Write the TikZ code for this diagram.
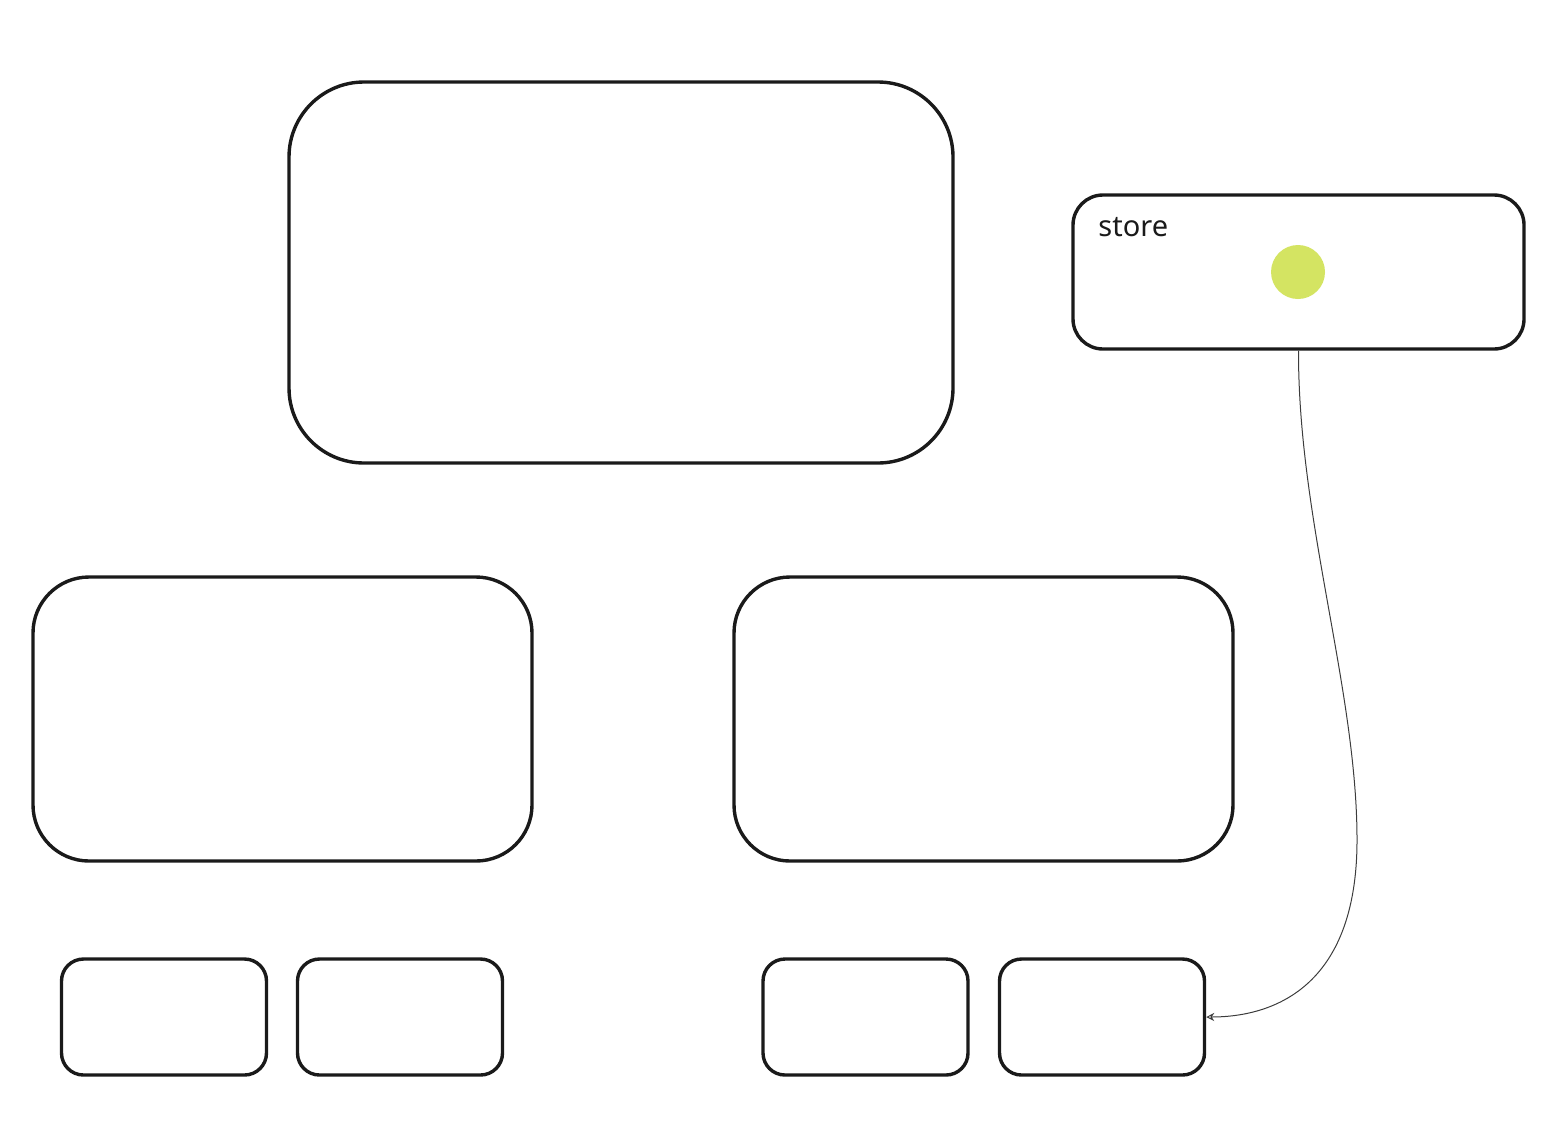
\documentclass[tikz,border=0pt]{standalone}
\usepackage{fontspec}
\setmainfont{Noto Sans}
\usetikzlibrary{arrows.meta}
\definecolor{boxline}{HTML}{1A1A1A}
\definecolor{dotfill}{HTML}{D4E462}
\begin{document}
\begin{tikzpicture}[x=0.5pt,y=-0.5pt,
  box/.style={draw=boxline,line width=1.7pt,rectangle,inner sep=0pt,fill=white},
  big/.style={box,minimum width=332pt,minimum height=190.5pt,rounded corners=37.5pt},
  storebox/.style={box,minimum width=225.5pt,minimum height=77pt,rounded corners=15pt},
  mid/.style={box,minimum width=249.5pt,minimum height=142pt,rounded corners=28pt},
  small/.style={box,minimum width=102.5pt,minimum height=58pt,rounded corners=11pt},
  conn/.style={draw=boxline!85,line width=0.5pt,-{Stealth[length=4pt,width=4pt,open]}}]
\useasboundingbox (0,0) rectangle (1566,1146);
\node[big] (top) at (621,272.5) {};
\node[storebox] (store) at (1298.5,272) {};
\node[mid] (ml) at (282.5,719) {};
\node[mid] (mr) at (983.5,719) {};
\node[small] (s1) at (164,1017) {};
\node[small] (s2) at (400,1017) {};
\node[small] (s3) at (865.5,1017) {};
\node[small] (s4) at (1102,1017) {};
\node[circle,fill=dotfill,inner sep=0pt,minimum size=27pt] (dot) at (1298,272) {};
\node[anchor=base west,inner sep=0pt,font=\fontsize{14.5pt}{17pt}\selectfont,text=boxline] (lbl) at (1098,236) {store};
\draw[conn] (store.south) .. controls (1298,520) and (1357,690) .. (1357,840)
  .. controls (1357,990) and (1270,1017) .. (s4.east);
\end{tikzpicture}
\end{document}
